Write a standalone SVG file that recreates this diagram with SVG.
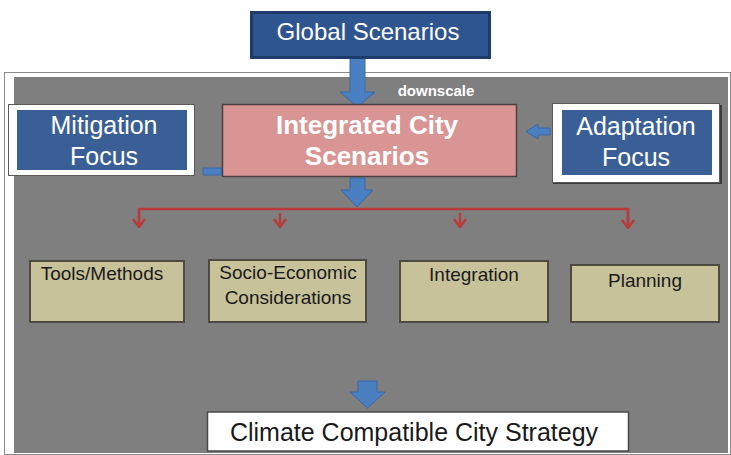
<svg xmlns="http://www.w3.org/2000/svg" width="731" height="455" viewBox="0 0 731 455">
  <defs>
    <style>
      .blue { fill: #3a5f96; }
      .navy { fill: #2f5590; stroke: #1e3b6c; stroke-width: 3; }
      .frame { fill: #ffffff; stroke: #5a5a5a; stroke-width: 1; }
      .tan { fill: #c8c29a; stroke: #4d4b40; stroke-width: 2; }
      .arrow { fill: #4a7fc2; stroke: #3a68a5; stroke-width: 1; }
      .red { stroke: #b83b3b; stroke-width: 2.5; fill: none; }
      .wt { font-family: "Liberation Sans", Arial, sans-serif; fill: #ffffff; text-anchor: middle; }
      .dk { font-family: "Liberation Sans", Arial, sans-serif; fill: #1a1a1a; text-anchor: middle; }
    </style>
    <!-- open chevron head for the red distribution lines -->
    <marker id="chev" viewBox="0 0 10 14" refX="9" refY="7" markerWidth="10" markerHeight="14" markerUnits="userSpaceOnUse" orient="auto">
      <path d="M1,1 L9,7 L1,13" fill="none" stroke="#b83b3b" stroke-width="2.5"/>
    </marker>
  </defs>

  <rect width="731" height="455" fill="#ffffff"/>

  <!-- gray working panel -->
  <rect x="4.5" y="72.5" width="726" height="382" fill="#ffffff" stroke="#8a8a8a" stroke-width="1"/>
  <rect x="14" y="77" width="714" height="376" fill="#7f7f7f"/>

  <!-- connectors -->
  <g id="connectors">
    <!-- Global -> Integrated -->
    <path class="arrow" d="M350,58 L365,58 L365,92 L375,92 L357.5,107 L340,92 L350,92 Z"/>
    <!-- Mitigation -> Integrated (stub) -->
    <path class="arrow" d="M203,168 L222,168 L222,175 L203,175 Z"/>
    <!-- Adaptation -> Integrated -->
    <path class="arrow" d="M550,128 L538,128 L538,124 L526,131.5 L538,139 L538,135 L550,135 Z"/>
    <!-- Integrated -> branches -->
    <path class="arrow" d="M350,178 L365,178 L365,190 L373,190 L357,207 L341,190 L350,190 Z"/>
    <!-- red distribution line -->
    <path class="red" d="M139,227 L139,209 L628,209 L628,228"/>
    <path class="red" d="M139,215 L139,227" marker-end="url(#chev)"/>
    <path class="red" d="M628,215 L628,228" marker-end="url(#chev)"/>
    <path class="red" d="M280,213 L280,227" marker-end="url(#chev)"/>
    <path class="red" d="M460,213 L460,227" marker-end="url(#chev)"/>
    <!-- branches -> strategy -->
    <path class="arrow" d="M358,381 L377,381 L377,392 L385,392 L367.5,408 L350,392 L358,392 Z"/>
  </g>

  <!-- Global Scenarios -->
  <g id="global">
    <rect class="navy" x="251.5" y="12.5" width="238" height="45"/>
    <text class="wt" x="368" y="40" font-size="24">Global Scenarios</text>
  </g>

  <text x="436" y="96" font-family="Liberation Sans, Arial, sans-serif" font-size="15" font-weight="bold" fill="#ffffff" text-anchor="middle">downscale</text>

  <!-- Mitigation Focus -->
  <g id="mitigation">
    <rect class="frame" x="8.5" y="104.5" width="186" height="71"/>
    <rect class="blue" x="17" y="110" width="170" height="60"/>
    <text class="wt" x="104" y="134" font-size="25">Mitigation</text>
    <text class="wt" x="104" y="165" font-size="25">Focus</text>
  </g>

  <!-- Integrated City Scenarios -->
  <g id="integrated">
    <rect x="222.5" y="104.5" width="294" height="72" fill="#d99594" stroke="#4a4040" stroke-width="1.5"/>
    <text class="wt" x="367" y="134" font-size="26" font-weight="bold">Integrated City</text>
    <text class="wt" x="367" y="165" font-size="26" font-weight="bold">Scenarios</text>
  </g>

  <!-- Adaptation Focus -->
  <g id="adaptation">
    <rect x="553" y="105" width="169" height="79" fill="#3c3c3c"/>
    <rect class="frame" x="552.5" y="103.5" width="167" height="79"/>
    <rect class="blue" x="562" y="110" width="150" height="65"/>
    <text class="wt" x="636" y="135" font-size="25">Adaptation</text>
    <text class="wt" x="636" y="166" font-size="25">Focus</text>
  </g>

  <!-- Tools/Methods -->
  <g id="tools">
    <rect class="tan" x="30" y="261" width="154" height="61"/>
    <text class="dk" x="102" y="280" font-size="19">Tools/Methods</text>
  </g>

  <!-- Socio-Economic Considerations -->
  <g id="socio">
    <rect class="tan" x="209" y="260" width="157" height="62"/>
    <text class="dk" x="288" y="279" font-size="19">Socio-Economic</text>
    <text class="dk" x="288" y="304" font-size="19">Considerations</text>
  </g>

  <!-- Integration -->
  <g id="integration">
    <rect class="tan" x="400" y="261" width="148" height="61"/>
    <text class="dk" x="474" y="281" font-size="19">Integration</text>
  </g>

  <!-- Planning -->
  <g id="planning">
    <rect class="tan" x="571" y="265" width="148" height="57"/>
    <text class="dk" x="645" y="287" font-size="19">Planning</text>
  </g>

  <!-- Climate Compatible City Strategy -->
  <g id="strategy">
    <rect x="207.5" y="412" width="421" height="39" fill="#ffffff" stroke="#4a4a4a" stroke-width="1.5"/>
    <text class="dk" x="414" y="441" font-size="25">Climate Compatible City Strategy</text>
  </g>
</svg>
